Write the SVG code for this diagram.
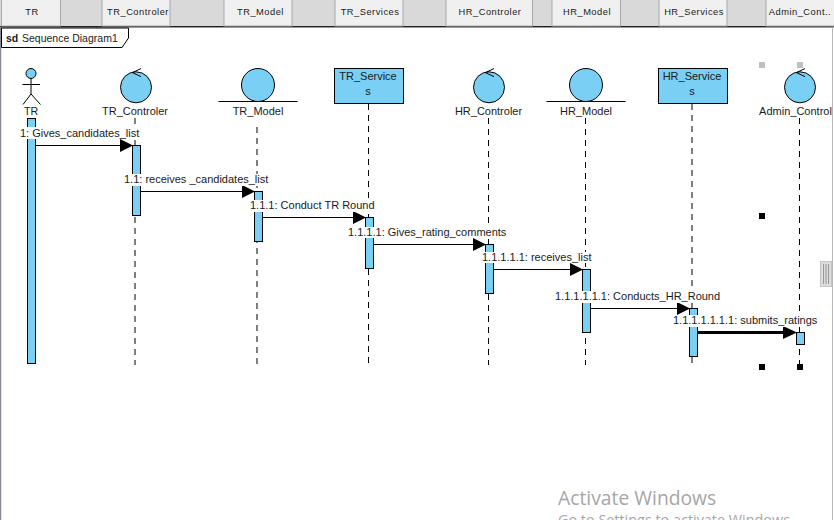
<svg xmlns="http://www.w3.org/2000/svg" width="834" height="520" viewBox="0 0 834 520">
<style>
text{font-family:"Liberation Sans",Arial,sans-serif;font-size:10.7px;fill:#1a1a1a}
.c{text-anchor:middle}
.tab{fill:#f0f0f0;stroke:#a8a8a8;stroke-width:1}
.tt{font-size:9.3px;letter-spacing:.5px;text-anchor:middle}
.fill{fill:#7acff5;stroke:#000;stroke-width:1}
.ln{stroke:#000;stroke-width:1;fill:none}
.ll{stroke:#000;stroke-width:1;stroke-dasharray:6 5;fill:none}
.msg{stroke:#000;stroke-width:1;fill:none}
.h{fill:#000}
.lb{fill:#fff}
.m{font-size:11px}
</style>
<defs>
<g id="ctl"><circle cx="0" cy="0" r="15.5" class="fill"/><path d="M5-18.700-3.700-14.700 5-10.700" class="ln"/></g>
<g id="ent"><circle cx="0" cy="0" r="16.500" class="fill"/><path d="M-39.500 16.500H39.500" class="ln"/></g>
</defs>
<rect width="834" height="520" fill="#fff"/>
<g id="header">
<rect x="0" y="0" width="834" height="26" fill="#d9d9d9"/>
<path d="M0 26.500H834" stroke="#222" stroke-width="1"/>
<path d="M0 27.500H834" stroke="#9a9a9a" stroke-width="1"/>
<rect class="tab" x="1.500" y="-1" width="59" height="27"/><text class="tt" x="32" y="15">TR</text>
<rect class="tab" x="102" y="-1" width="68" height="27"/><text class="tt" x="138" y="15">TR_Controler</text>
<rect class="tab" x="224" y="-1" width="68" height="27"/><text class="tt" x="260.500" y="15">TR_Model</text>
<rect class="tab" x="335" y="-1" width="68" height="27"/><text class="tt" x="370" y="15">TR_Services</text>
<rect class="tab" x="446" y="-1" width="86.500" height="27"/><text class="tt" x="490" y="15">HR_Controler</text>
<rect class="tab" x="552" y="-1" width="68.500" height="27"/><text class="tt" x="587" y="15">HR_Model</text>
<rect class="tab" x="659" y="-1" width="68" height="27"/><text class="tt" x="694" y="15">HR_Services</text>
<rect class="tab" x="766" y="-1" width="69" height="27"/><text class="tt" x="800" y="15">Admin_Cont..</text>
</g>
<path d="M0.500 27V520" stroke="#8a8a96" stroke-width="1.500" fill="none"/>
<path d="M832.500 27V520" stroke="#b8b8c0" stroke-width="1" fill="none"/>
<g id="frame">
<path d="M1.500 28H128.500V38L122 47.500H1.500Z" fill="#fff" stroke="#000"/>
<text x="6" y="42" style="font-size:10.5px;font-weight:bold">sd</text>
<text x="22" y="42" style="font-size:10.5px">Sequence Diagram1</text>
</g>
<g id="connectors">
<path class="ll" d="M135 118V365M257 127V365M368.500 104V365M488.500 118V365M585.500 118V365M692 104V365M799.500 118V365"/>
<path class="msg" d="M36 145.500H121"/><path class="h" d="M120 139 133 145.500 120 152Z"/>
<path class="msg" d="M141 191.500H243"/><path class="h" d="M242 185 255 191.500 242 198Z"/>
<path class="msg" d="M263 217.500H354"/><path class="h" d="M353 211 366 217.500 353 224Z"/>
<path class="msg" d="M374 244.500H474"/><path class="h" d="M473 238 486 244.500 473 251Z"/>
<path class="msg" d="M494 269.500H571"/><path class="h" d="M570 263 583 269.500 570 276Z"/>
<path class="msg" d="M591 308.500H678"/><path class="h" d="M677 302 690 308.500 677 315Z"/>
<path d="M698 332.500H785" stroke="#000" stroke-width="3" fill="none"/><path class="h" d="M783 326 797 332.500 783 339Z"/>
</g>
<g id="TR">
<circle cx="31" cy="73.500" r="5" class="fill"/>
<path class="ln" d="M31 78.500V94M22.500 84.500H40M31 94 23 104.500M31 94 40.500 104.500"/>
<text class="c" x="31" y="115">TR</text>
<rect class="fill" x="27.500" y="118.500" width="8" height="245"/>
</g>
<g id="TR_Controler">
<use href="#ctl" x="136" y="87.300"/>
<text class="c m" x="135" y="115">TR_Controler</text>
<rect class="fill" x="132.500" y="145.500" width="8" height="70"/>
</g>
<g id="TR_Model">
<use href="#ent" x="258" y="85"/>
<text class="c m" x="258" y="115">TR_Model</text>
<rect class="fill" x="254.500" y="191.500" width="8" height="50"/>
</g>
<g id="TR_Services">
<rect class="fill" x="334.500" y="68.500" width="69" height="35"/>
<text class="c m" x="368" y="80">TR_Service</text><text class="c m" x="368" y="95">s</text>
<rect class="fill" x="365.500" y="217.500" width="8" height="51"/>
</g>
<g id="HR_Controler">
<use href="#ctl" x="489" y="87.300"/>
<text class="c m" x="488.500" y="115">HR_Controler</text>
<rect class="fill" x="485.500" y="244.500" width="8" height="49"/>
</g>
<g id="HR_Model">
<use href="#ent" x="586" y="85"/>
<text class="c m" x="586" y="115">HR_Model</text>
<rect class="fill" x="582.500" y="269.500" width="8" height="63"/>
</g>
<g id="HR_Services">
<rect class="fill" x="658.500" y="68.500" width="69" height="35"/>
<text class="c m" x="692" y="80">HR_Service</text><text class="c m" x="692" y="95">s</text>
<rect class="fill" x="689.500" y="308.500" width="8" height="48"/>
</g>
<g id="Admin_Control">
<use href="#ctl" x="800" y="87.300"/>
<text class="c m" x="795.500" y="115">Admin_Control</text>
<rect class="fill" x="796.500" y="332.500" width="8" height="12"/>
</g>
<g id="labels">
<rect class="lb" x="20" y="127" width="119" height="12"/><text class="m" x="20" y="136.500">1: Gives_candidates_list</text>
<rect class="lb" x="124" y="174" width="143" height="12"/><text class="m" x="124" y="183">1.1: receives _candidates_list</text>
<rect class="lb" x="250" y="200" width="124" height="12"/><text class="m" x="250" y="209">1.1.1: Conduct TR Round</text>
<rect class="lb" x="348" y="227" width="157" height="11"/><text class="m" x="348" y="236">1.1.1.1: Gives_rating_comments</text>
<rect class="lb" x="482" y="252" width="108" height="11"/><text class="m" x="482" y="261">1.1.1.1.1: receives_list</text>
<rect class="lb" x="555" y="291" width="164" height="12"/><text class="m" x="555" y="300">1.1.1.1.1.1: Conducts_HR_Round</text>
<rect class="lb" x="673" y="315" width="143" height="12"/><text class="m" x="673" y="324">1.1.1.1.1.1.1: submits_ratings</text>
</g>
<g id="handles">
<rect x="759" y="62" width="6" height="6" fill="#c0c0c0"/><rect x="797" y="62" width="6" height="6" fill="#c0c0c0"/>
<rect x="759" y="213" width="6" height="6"/><rect x="759" y="364" width="6" height="6"/><rect x="797" y="364" width="6" height="6"/>
</g>
<g id="grip">
<rect x="820.500" y="261.500" width="11" height="25" fill="#dcdcdc" stroke="#c4c4c4"/>
<path d="M823.500 264V284M826 264V284M828.500 264V284" stroke="#999"/>
</g>
<text x="558" y="505" style="font-family:'Open Sans','Noto Sans',sans-serif;font-size:19.300px;fill:#a6a6a6">Activate Windows</text>
<text x="558" y="525" style="font-family:'Open Sans','Noto Sans',sans-serif;font-size:14.400px;fill:#a6a6a6">Go to Settings to activate Windows.</text>
</svg>
